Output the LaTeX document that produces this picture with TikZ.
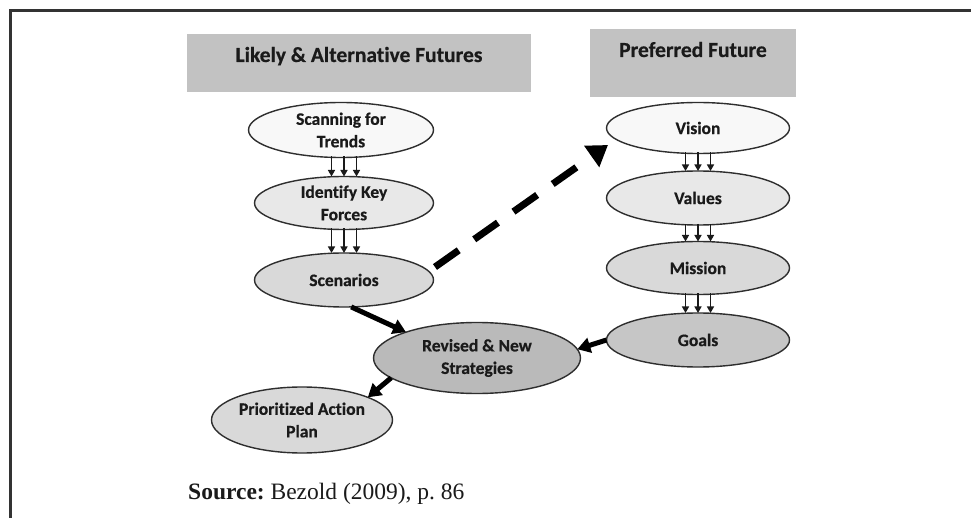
\documentclass[tikz,border=0pt]{standalone}
\usepackage{fontspec}
\setmainfont{Liberation Serif}
\newfontfamily\calibrifont[Ligatures={NoCommon},BoldFeatures={FakeBold=0.6}]{Carlito}
\usetikzlibrary{shapes.geometric,arrows.meta,calc}

\definecolor{framegray}{HTML}{333333}
\definecolor{hdrgray}{HTML}{C2C2C2}
\definecolor{ovalline}{HTML}{2E2E2E}
\definecolor{txtdark}{HTML}{1A1A1A}
\definecolor{fillA}{HTML}{F8F8F8}
\definecolor{fillB}{HTML}{E8E8E8}
\definecolor{fillC}{HTML}{D9D9D9}
\definecolor{fillD}{HTML}{C6C6C6}
\definecolor{fillE}{HTML}{BABABA}

\begin{document}
\begin{tikzpicture}[x=1pt,y=-1pt,
  oval/.style={ellipse, draw=ovalline, line width=1.4pt, inner xsep=0pt,
    inner ysep=-12pt, outer sep=0pt, align=center, text=txtdark,
    font=\calibrifont\bfseries\fontsize{17.5}{22.5}\selectfont},
  hdrbox/.style={rectangle, fill=hdrgray, draw=none, inner sep=0pt},
  hdrtext/.style={anchor=base, inner sep=0pt, text=txtdark,
    font=\calibrifont\bfseries\fontsize{21.5}{26}\selectfont},
  smallarrow/.style={line width=1.4pt, draw=txtdark,
    -{Triangle[length=6.5pt,width=7pt]}},
  thickarrow/.style={line width=5pt, draw=black,
    -{Triangle[length=13pt,width=15pt]}},
  dasharrow/.style={line width=7pt, draw=black, dash pattern=on 29pt off 19pt,
    -{Triangle[length=20pt,width=25pt]}}
]
\useasboundingbox[fill=white] (0,0) rectangle (971,518);

% frame (top and left rules)
\draw[framegray, line width=3pt] (10.5,520) -- (10.5,10.5) -- (975,10.5);

% column headings
\node[hdrbox, minimum width=344pt, minimum height=58pt] (hleft) at (359,63) {};
\node[hdrtext] (hlefttxt) at (359,62) {Likely \& Alternative Futures};
\node[hdrbox, minimum width=206pt, minimum height=68pt] (hright) at (693,63) {};
\node[hdrtext] (hrighttxt) at (693,57) {Preferred Future};

% left column
\node[oval, fill=fillA, minimum width=185pt, minimum height=55pt] (scan) at (341,130) {Scanning for\\Trends};
\node[oval, fill=fillB, minimum width=179pt, minimum height=53pt] (ident) at (344,203) {Identify Key\\Forces};
\node[oval, fill=fillC, minimum width=179pt, minimum height=54pt] (scen) at (344,280) {Scenarios};

% right column
\node[oval, fill=fillA, minimum width=183pt, minimum height=51pt] (vis) at (698,128) {Vision};
\node[oval, fill=fillB, minimum width=183pt, minimum height=54pt] (val) at (698,198) {Values};
\node[oval, fill=fillC, minimum width=183pt, minimum height=53pt] (mis) at (698,268) {Mission};
\node[oval, fill=fillD, minimum width=183pt, minimum height=54pt] (goal) at (698,340) {Goals};

% outcome
\node[oval, fill=fillE, minimum width=207pt, minimum height=71pt] (rev) at (477,358) {Revised \& New\\Strategies};
\node[oval, fill=fillC, minimum width=181pt, minimum height=66pt] (plan) at (302,420) {Prioritized Action\\Plan};

% triple flow arrows between stacked ovals
\foreach \dx in {-12.5,0,12.5} {
  \draw[smallarrow] ($(scan.south)+(\dx+3,-1)$) -- ($(ident.north)+(\dx,0)$);
  \draw[smallarrow] ($(ident.south)+(\dx,-1)$) -- ($(scen.north)+(\dx,0)$);
  \draw[smallarrow] ($(vis.south)+(\dx,-1)$) -- ($(val.north)+(\dx,0)$);
  \draw[smallarrow] ($(val.south)+(\dx,-1)$) -- ($(mis.north)+(\dx,0)$);
  \draw[smallarrow] ($(mis.south)+(\dx,-1)$) -- ($(goal.north)+(\dx,0)$);
}

% scenarios feed the preferred future
\draw[dasharrow] ($(scen.east)+(1.5,-13)$) -- ($(vis.west)+(1.5,17)$);

% strategy links
\draw[thickarrow] (scen.-75) -- (rev.160);
\draw[thickarrow] (goal.west) -- (rev.5);
\draw[thickarrow] (rev.193) -- (plan.19);

% source line
\node[anchor=base west, inner sep=0pt, text=txtdark,
  font=\fontsize{23.5}{28}\selectfont] (src) at (188,499)
  {\textbf{Source:}\hspace{-2pt} Bezold (2009), p.~86};
\end{tikzpicture}
\end{document}
